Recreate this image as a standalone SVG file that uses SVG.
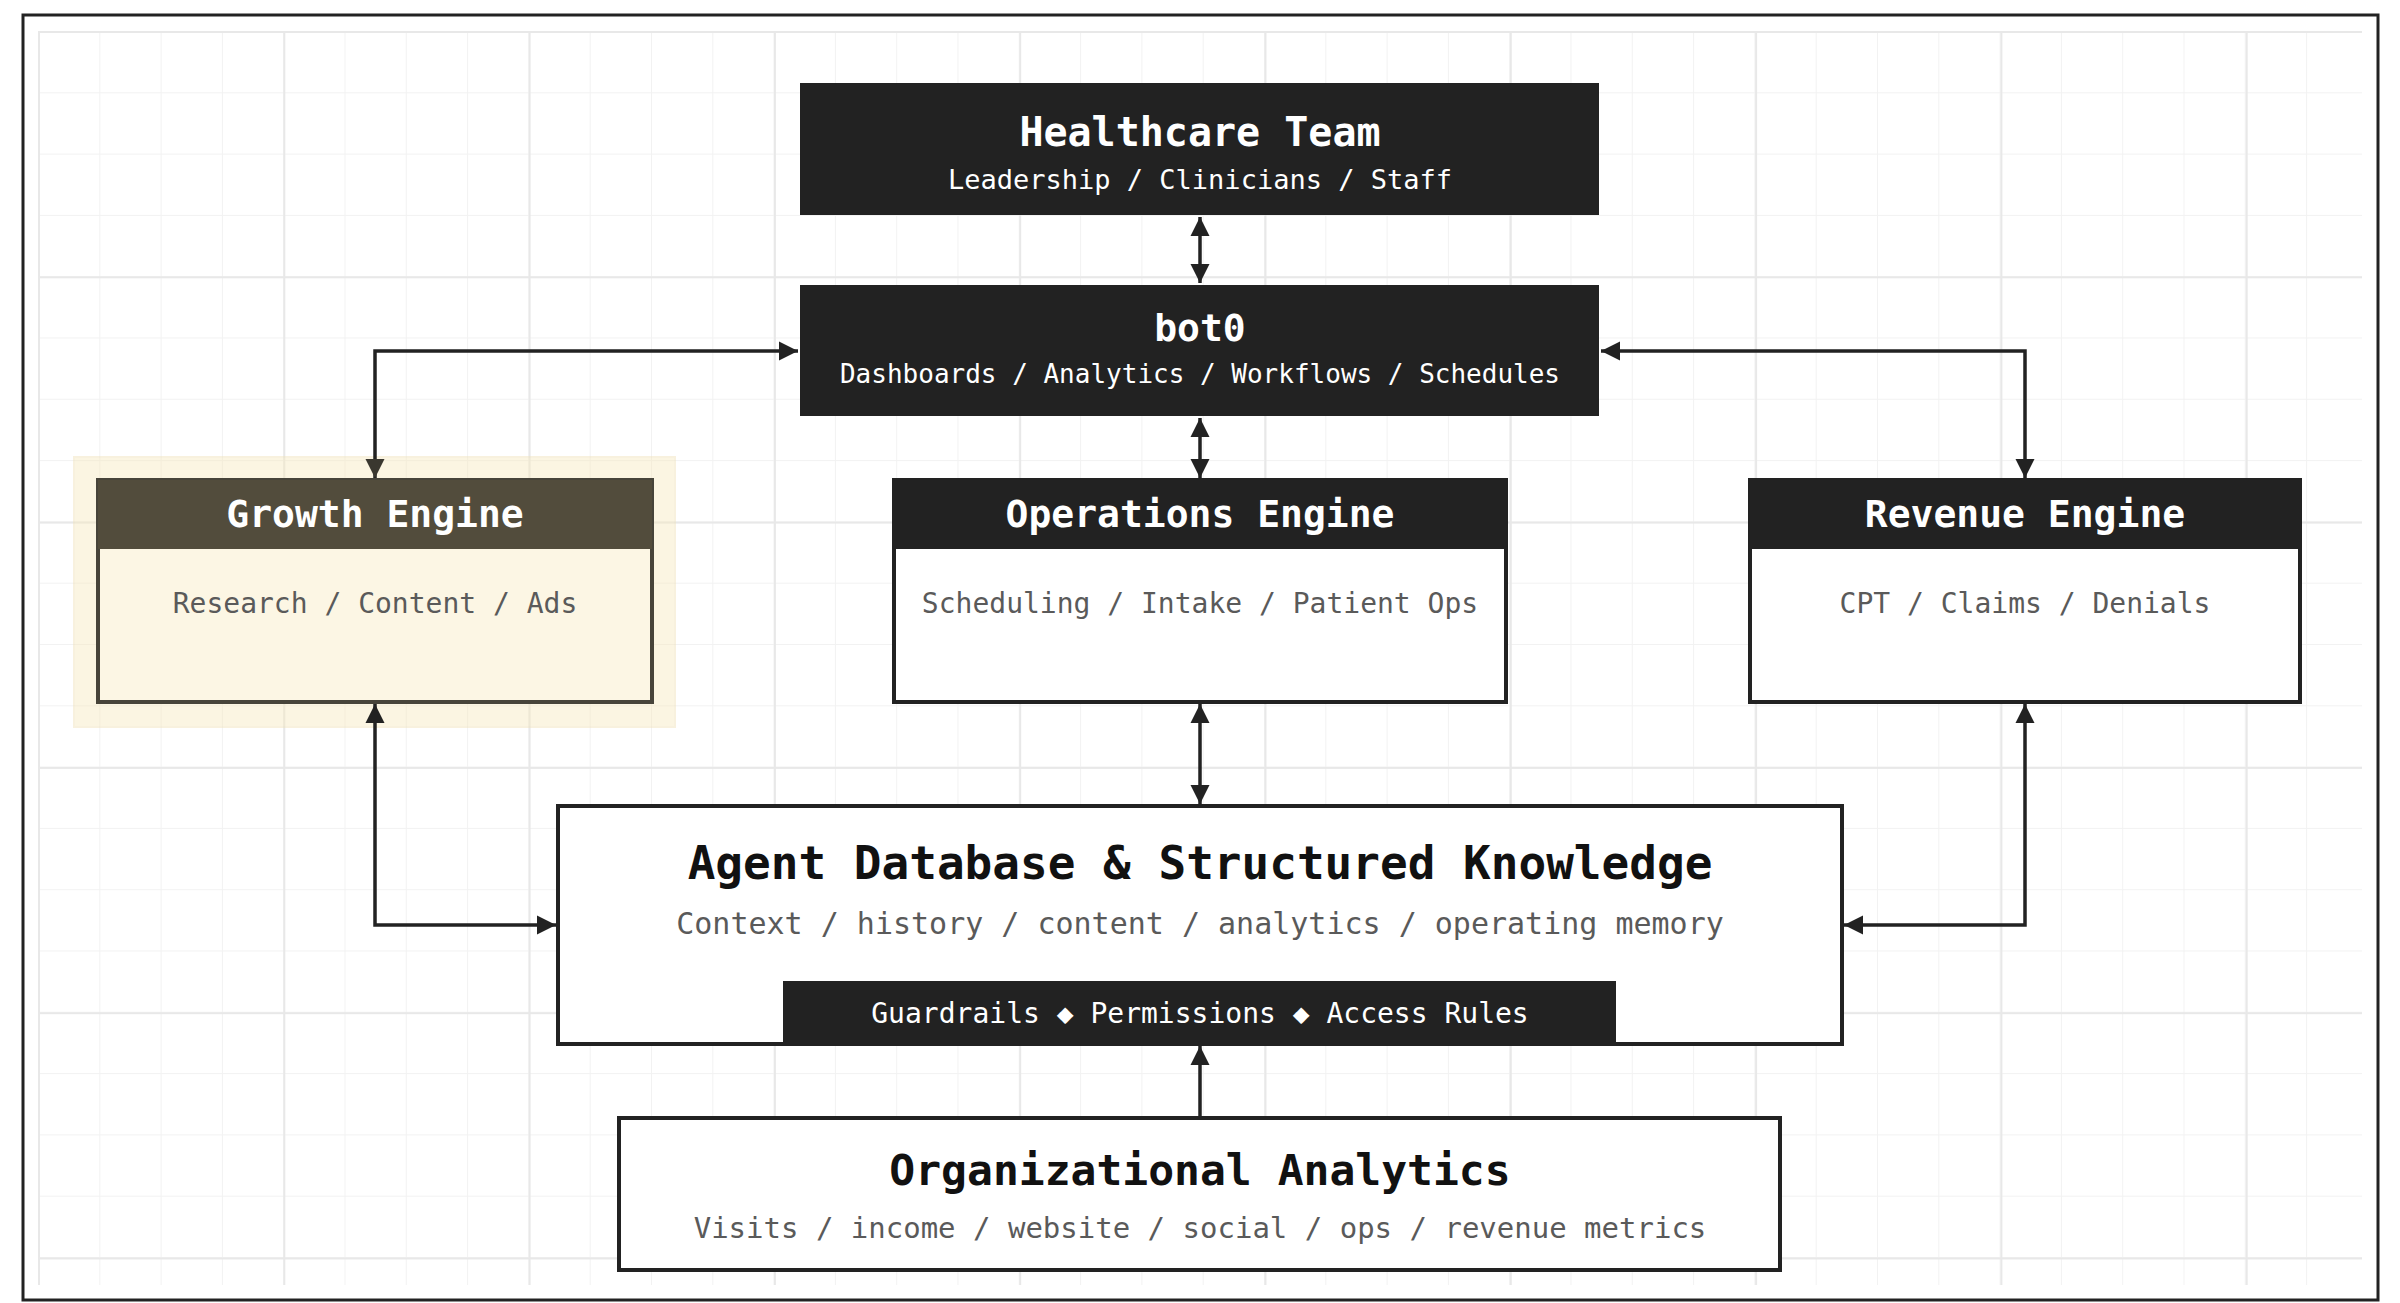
<svg xmlns="http://www.w3.org/2000/svg" width="2400" height="1303" viewBox="0 0 2400 1303">
<style>
text{font-family:"DejaVu Sans Mono","Liberation Mono",monospace;text-anchor:middle;dominant-baseline:central}
.t{font-weight:bold;fill:#fff}
.dk{fill:#222}
.box{fill:#fff;stroke:#222;stroke-width:4}
.sub{fill:#5a5a5a}
.w{fill:#fff}
.c{fill:none;stroke:#222;stroke-width:3.5}
</style>
<defs>
<pattern id="gm" x="38" y="31" width="61.3" height="61.3" patternUnits="userSpaceOnUse"><path d="M0 0H61.3M0 0V61.3" fill="none" stroke="#f2f2f2" stroke-width="2"/></pattern>
<pattern id="gM" x="38" y="31" width="245.3" height="245.3" patternUnits="userSpaceOnUse"><path d="M0 0H245.3M0 0V245.3" fill="none" stroke="#e8e8e8" stroke-width="4"/></pattern>
<marker id="a" viewBox="0 0 10 10" refX="10" refY="5" markerWidth="5.5" markerHeight="5.5" orient="auto-start-reverse" markerUnits="strokeWidth"><path d="M0 0L10 5L0 10z" fill="#222"/></marker>
<marker id="ag" viewBox="0 0 10 10" refX="10" refY="5" markerWidth="5.5" markerHeight="5.5" orient="auto-start-reverse" markerUnits="strokeWidth"><path d="M0 0L10 5L0 10z" fill="#3a372f"/></marker>
</defs>
<rect width="2400" height="1303" fill="#fff"/>
<rect x="38" y="31" width="2324" height="1254" fill="url(#gm)"/>
<rect x="38" y="31" width="2324" height="1254" fill="url(#gM)"/>
<rect x="23" y="15" width="2355" height="1285" fill="none" stroke="#222" stroke-width="3"/>
<g id="healthcare">
<rect x="800" y="83" width="799" height="132" class="dk"/>
<text x="1200" y="132" class="t" font-size="40">Healthcare Team</text>
<text x="1200" y="179" class="w" font-size="27">Leadership / Clinicians / Staff</text>
</g>
<g id="bot0">
<rect x="800" y="285" width="799" height="131" class="dk"/>
<text x="1200" y="328" class="t" font-size="38">bot0</text>
<text x="1200" y="374" class="w" font-size="26">Dashboards / Analytics / Workflows / Schedules</text>
</g>
<g id="growth">
<rect x="74" y="457" width="601" height="270" fill="#f7e9bf" opacity="0.45" stroke="#f0e2b8" stroke-width="2"/>
<rect x="98" y="480" width="554" height="222" fill="#fcf6e4" stroke="#47443a" stroke-width="4"/>
<rect x="98" y="480" width="554" height="69" fill="#524c3c"/>
<text x="375" y="514" class="t" font-size="38">Growth Engine</text>
<text x="375" y="603" class="sub" font-size="28">Research / Content / Ads</text>
</g>
<g id="operations">
<rect x="894" y="480" width="612" height="222" class="box"/>
<rect x="894" y="480" width="612" height="69" class="dk"/>
<text x="1200" y="514" class="t" font-size="38">Operations Engine</text>
<text x="1200" y="603" class="sub" font-size="28">Scheduling / Intake / Patient Ops</text>
</g>
<g id="revenue">
<rect x="1750" y="480" width="550" height="222" class="box"/>
<rect x="1750" y="480" width="550" height="69" class="dk"/>
<text x="2025" y="514" class="t" font-size="38">Revenue Engine</text>
<text x="2025" y="603" class="sub" font-size="28">CPT / Claims / Denials</text>
</g>
<g id="agentdb">
<rect x="558" y="806" width="1284" height="238" class="box"/>
<text x="1200" y="863" font-size="46" font-weight="bold" fill="#111">Agent Database &amp; Structured Knowledge</text>
<text x="1200" y="923" class="sub" font-size="30">Context / history / content / analytics / operating memory</text>
<rect x="783" y="981" width="833" height="63" class="dk"/>
<text x="1200" y="1013" class="w" font-size="28">Guardrails ◆ Permissions ◆ Access Rules</text>
</g>
<g id="orgAnalytics">
<rect x="619" y="1118" width="1161" height="152" class="box"/>
<text x="1200" y="1170" font-size="43" font-weight="bold" fill="#111">Organizational Analytics</text>
<text x="1200" y="1228" class="sub" font-size="29">Visits / income / website / social / ops / revenue metrics</text>
</g>
<g id="connectors">
<path class="c" d="M1200 217V283" marker-start="url(#a)" marker-end="url(#a)"/>
<path class="c" d="M1200 418V478" marker-start="url(#a)" marker-end="url(#a)"/>
<path class="c" d="M375 478V351H798" marker-start="url(#ag)" marker-end="url(#a)"/>
<path class="c" d="M2025 478V351H1601" marker-start="url(#a)" marker-end="url(#a)"/>
<path class="c" d="M1200 704V804" marker-start="url(#a)" marker-end="url(#a)"/>
<path class="c" d="M375 704V925H556" marker-start="url(#a)" marker-end="url(#a)"/>
<path class="c" d="M2025 704V925H1844" marker-start="url(#a)" marker-end="url(#a)"/>
<path class="c" d="M1200 1116V1046" marker-end="url(#a)"/>
</g>
</svg>
